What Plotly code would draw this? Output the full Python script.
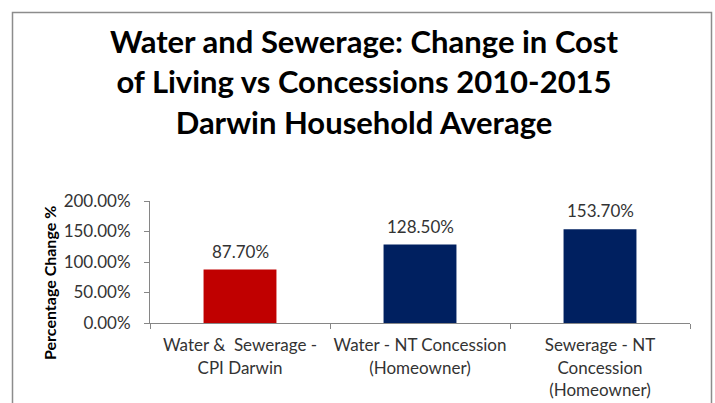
import plotly.graph_objects as go

# Chart data
categories = [
    "Water &\u00a0\u00a0Sewerage -<br>CPI Darwin",
    "Water - NT Concession<br>(Homeowner)",
    "Sewerage - NT<br>Concession<br>(Homeowner)",
]
pct_change = [0.877, 1.285, 1.537]
bar_colors = ["#C00000", "#002060", "#002060"]
y_ticks = [0, 0.5, 1.0, 1.5, 2.0]

W, H = 715, 403
L, R, T, B = 150, 25, 201, 80
pw, ph = W - L - R, H - T - B

def px_x(x):
    return (x - L) / pw

def px_y(y):
    return (H - B - y) / ph

FONT = "Lato"
TXT = "#333333"
AX = "#868686"

fig = go.Figure(
    go.Bar(
        x=categories,
        y=pct_change,
        marker=dict(color=bar_colors, line=dict(width=0)),
    )
)

# value labels above each bar
value_labels = [
    dict(
        x=c,
        y=v,
        text=f"{v:.2%}",
        xref="x",
        yref="y",
        yanchor="bottom",
        yshift=6,
        showarrow=False,
        font=dict(family=FONT, size=17, color=TXT),
    )
    for c, v in zip(categories, pct_change)
]

fig.update_layout(
    width=W,
    height=H,
    margin=dict(l=L, r=R, t=T, b=B, pad=0, autoexpand=False),
    paper_bgcolor="white",
    plot_bgcolor="white",
    bargap=0.595,
    showlegend=False,
    title=dict(
        text="Water and Sewerage: Change in Cost<br>of Living vs Concessions 2010-2015<br>Darwin Household Average",
        font=dict(family=FONT, size=31, color="black", weight="bold"),
        x=364 / W,
        xanchor="center",
        xref="container",
        y=1 - 53 / H,
        yanchor="middle",
        yref="container",
    ),
    xaxis=dict(
        showline=True,
        linecolor=AX,
        linewidth=1,
        ticks="outside",
        tickson="boundaries",
        ticklen=5,
        tickcolor=AX,
        tickangle=0,
        automargin=False,
        ticklabelstandoff=7,
        tickfont=dict(family=FONT, size=17, color=TXT),
        showgrid=False,
    ),
    yaxis=dict(
        range=[0, 2.0],
        tickvals=y_ticks,
        tickformat=".2%",
        showline=True,
        linecolor=AX,
        linewidth=1,
        ticks="outside",
        ticklen=5,
        tickcolor=AX,
        automargin=False,
        ticklabelstandoff=10,
        tickfont=dict(family=FONT, size=17, color=TXT),
        showgrid=False,
        zeroline=False,
    ),
    annotations=[
        dict(
            text="<b>Percentage Change %</b>",
            textangle=-90,
            x=px_x(49),
            y=px_y(283),
            xref="paper",
            yref="paper",
            xanchor="center",
            yanchor="middle",
            showarrow=False,
            font=dict(family=FONT, size=16, color="black"),
        )
    ] + value_labels,
    shapes=[
        dict(
            type="rect",
            xref="paper",
            yref="paper",
            x0=px_x(12.5),
            x1=px_x(711.5),
            y0=px_y(420),
            y1=px_y(12.5),
            line=dict(color="#8C8C8C", width=1.5),
            fillcolor="rgba(0,0,0,0)",
            layer="below",
        )
    ],
)

fig.write_html("out.html")
